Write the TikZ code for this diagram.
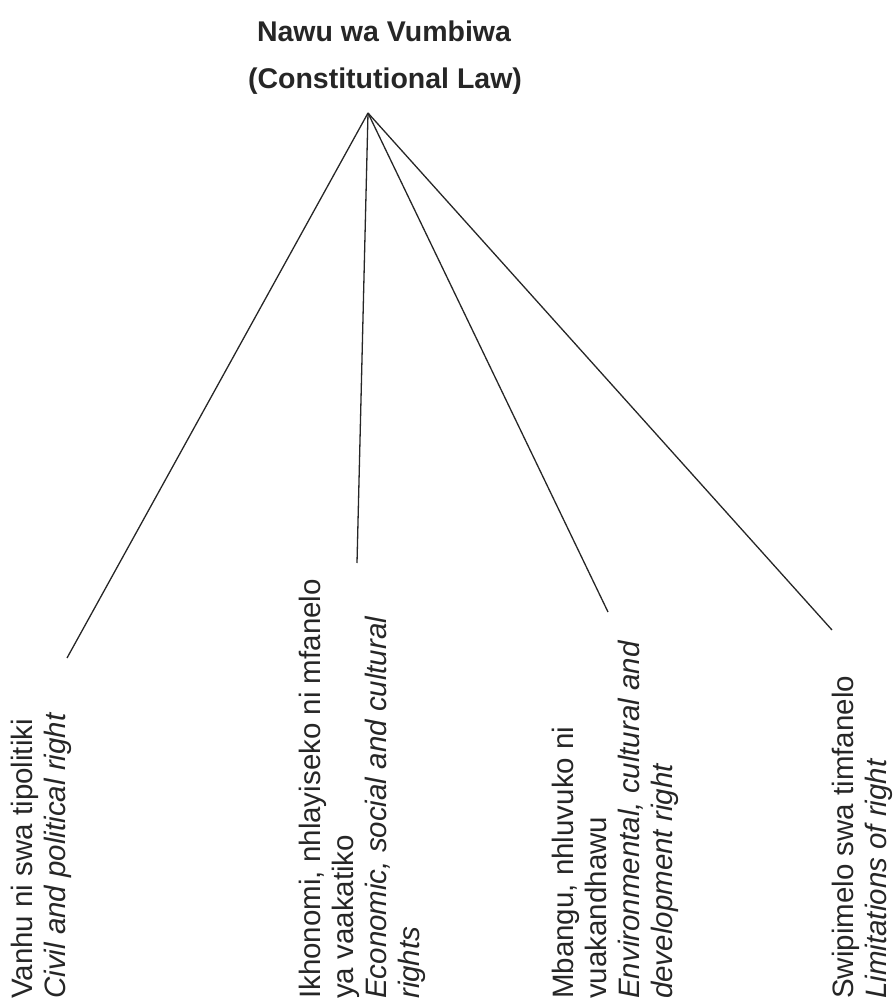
\documentclass[tikz,border=0pt]{standalone}
\usepackage{fontspec}
\setmainfont{Liberation Sans}
\definecolor{ink}{gray}{0.15}
\begin{document}
\begin{tikzpicture}[x=1pt,y=-1pt,
  title/.style={font=\fontsize{28.5}{50}\selectfont\bfseries, text=ink, inner sep=0pt, align=center},
  leaf/.style={font=\fontsize{29.5}{33}\selectfont, text=ink, inner sep=0pt, align=left, rotate=90, anchor=north west},
  branch/.style={draw=ink, line width=1.3pt}]
\useasboundingbox (0,0) rectangle (895,1003);
\node[title] (t1) at (384,31) {Nawu wa Vumbiwa};
\node[title] (t2) at (385,81) {(Constitutional Law)};
\coordinate (apex) at (368,113);
\coordinate (e1) at (67,658);
\coordinate (e2) at (357,563);
\coordinate (e3) at (608,612);
\coordinate (e4) at (832,630);
\draw[branch] (apex) -- (e1);
\draw[branch] (apex) -- (e2);
\draw[branch] (apex) -- (e3);
\draw[branch] (apex) -- (e4);
\node[leaf] (l1) at (11,999) {Vanhu ni swa tipolitiki\\\itshape Civil and political right};
\node[leaf] (l2) at (299,999) {Ikhonomi, nhlayiseko ni mfanelo\\ya vaakatiko\\\itshape Economic, social and cultural\\\itshape rights};
\node[leaf] (l3) at (552,999) {Mbangu, nhluvuko ni\\vuakandhawu\\\itshape Environmental, cultural and\\\itshape development right};
\node[leaf] (l4) at (832,999) {Swipimelo swa timfanelo\\\itshape Limitations of right};
\end{tikzpicture}
\end{document}
